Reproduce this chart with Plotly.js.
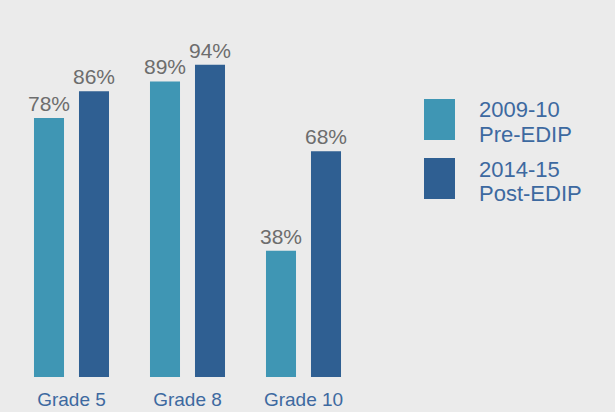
<!DOCTYPE html>
<html>
<head>
<meta charset="utf-8">
<script src="https://cdn.plot.ly/plotly-3.0.1.min.js"></script>
<style>html,body{margin:0;padding:0;background:#ebebeb;}#chart{width:615px;height:412px;}</style>
</head>
<body>
<div id="chart"></div>
<script>
const categories = ['Grade 5', 'Grade 8', 'Grade 10'];
const preValues = [78, 89, 38];
const postValues = [86, 94, 68];
const seriesYears = ['2009-10', '2014-15'];
const seriesPhases = ['Pre-EDIP', 'Post-EDIP'];
const seriesColors = ['#3f96b4', '#2f5f92'];

const valueFont = {family: 'Liberation Sans, Arial, sans-serif', size: 21, color: '#6d6d6d'};

function barTrace(vals, i) {
  return {
    type: 'bar', x: categories, y: vals,
    name: seriesYears[i] + ' ' + seriesPhases[i],
    marker: {color: seriesColors[i]},
    text: vals.map(v => v + '%'), textposition: 'outside', constraintext: 'none',
    textfont: valueFont, cliponaxis: false, hoverinfo: 'skip'
  };
}

const traces = [barTrace(preValues, 0), barTrace(postValues, 1)];

const PH = 377; // plot area height in px (paper y spans plot area)
const shapes = [];
const annotations = [];
const legTop = [99, 158];
const legFont = {family: 'Liberation Sans, Arial, sans-serif', size: 22, color: '#3d69a0'};
seriesYears.forEach((yr, i) => {
  const top = legTop[i];
  shapes.push({type: 'rect', xref: 'paper', yref: 'paper',
    x0: 424 / 615, x1: 455 / 615, y0: 1 - (top + 41) / PH, y1: 1 - top / PH,
    fillcolor: seriesColors[i], line: {width: 0}});
  annotations.push({xref: 'paper', yref: 'paper', x: 477 / 615, y: 1 - (top + 11) / PH,
    xanchor: 'left', yanchor: 'middle', showarrow: false, text: yr, font: legFont});
  annotations.push({xref: 'paper', yref: 'paper', x: 477 / 615, y: 1 - (top + 35) / PH,
    xanchor: 'left', yanchor: 'middle', showarrow: false, text: seriesPhases[i], font: legFont});
});

const layout = {
  width: 615, height: 412,
  margin: {l: 0, r: 0, t: 0, b: 35},
  paper_bgcolor: '#ebebeb', plot_bgcolor: '#ebebeb',
  barmode: 'group', bargap: 0.224, bargroupgap: 0.333,
  showlegend: false,
  xaxis: {domain: [13.5 / 615, 361.5 / 615], showgrid: false, zeroline: false, showline: false,
    ticks: '', ticklabelstandoff: 9,
    tickfont: {family: 'Liberation Sans, Arial, sans-serif', size: 19, color: '#3d69a0'}},
  yaxis: {range: [0, 113.5], visible: false, showgrid: false, zeroline: false},
  shapes: shapes, annotations: annotations
};

Plotly.newPlot('chart', traces, layout, {displayModeBar: false, staticPlot: true});
</script>
</body>
</html>
